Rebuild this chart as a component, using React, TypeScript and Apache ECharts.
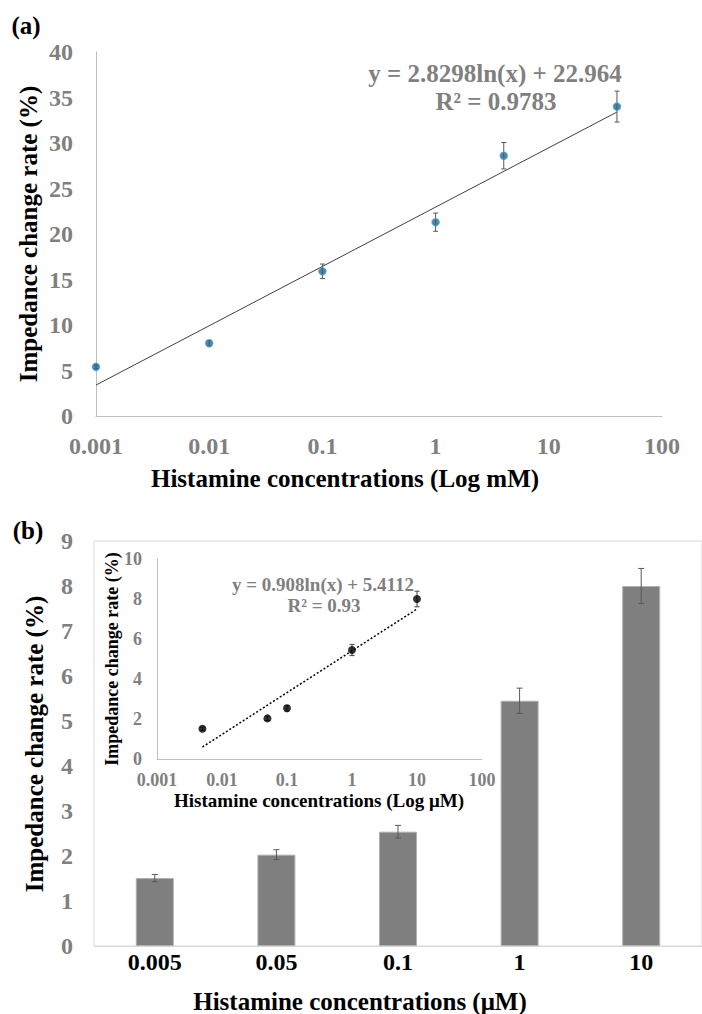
import React, { useEffect, useRef } from 'react';
import * as echarts from 'echarts';

// ---- Panel (a) data ----
const concA = [0.001, 0.01, 0.1, 1, 4, 40];
const rateA = [5.4, 8.0, 15.9, 21.3, 28.6, 34.0];
const errA = [0.2, 0.3, 0.8, 1.0, 1.45, 1.7];
const trendA = [[0.001, 3.4], [40, 33.4]];
const xTicksA = ['0.001', '0.01', '0.1', '1', '10', '100'];
const eqA = 'y = 2.8298ln(x) + 22.964';
const r2A = 'R² = 0.9783';

// ---- Panel (b) data ----
const catsB = ['0.005', '0.05', '0.1', '1', '10'];
const concB = [0.005, 0.05, 0.1, 1, 10];
const rateB = [1.51, 2.03, 2.54, 5.45, 8.0];
const errB = [0.08, 0.11, 0.14, 0.28, 0.39];
const trendB = [[0.005, 0.6], [10, 7.5]];
const xTicksInset = ['0.001', '0.01', '0.1', '1', '10', '100'];
const eqB = 'y = 0.908ln(x) + 5.4112';
const r2B = 'R² = 0.93';

const FONT = '"Liberation Serif", "Times New Roman", serif';
const GRAY = '#808080';

const logLabel = (ticks: string[]) => (v: number) => {
  const i = Math.round(Math.log10(v)) + 3;
  return ticks[i] ?? '';
};

const errRender = (capHalf: number, color: string) => (params: any, api: any) => {
  const x = api.value(0);
  const lo = api.value(1);
  const hi = api.value(2);
  const p1 = api.coord([x, hi]);
  const p2 = api.coord([x, lo]);
  const style = { stroke: color, lineWidth: 1 };
  return {
    type: 'group',
    children: [
      { type: 'line', shape: { x1: p1[0], y1: p1[1], x2: p2[0], y2: p2[1] }, style },
      { type: 'line', shape: { x1: p1[0] - capHalf, y1: p1[1], x2: p1[0] + capHalf, y2: p1[1] }, style },
      { type: 'line', shape: { x1: p2[0] - capHalf, y1: p2[1], x2: p2[0] + capHalf, y2: p2[1] }, style },
    ],
  };
};

const txt = (x: number, y: number, text: string, size: number, color: string, rot = 0) => ({
  type: 'text',
  x,
  y,
  rotation: rot,
  style: {
    text,
    fill: color,
    fontSize: size,
    fontWeight: 'bold',
    fontFamily: FONT,
    align: 'center',
    verticalAlign: 'middle',
  },
  z: 100,
});

export default function App() {
  const ref = useRef<HTMLDivElement>(null);
  useEffect(() => {
    if (!ref.current) return;
    const chart = echarts.init(ref.current, undefined, { renderer: 'svg' });
    const tickLabel = (size: number, color: string, margin: number) => ({
      fontSize: size,
      fontWeight: 'bold',
      fontFamily: FONT,
      color,
      margin,
    });
    const option: any = {
      animation: false,
      backgroundColor: '#ffffff',
      grid: [
        { left: 96, top: 52, width: 566, height: 364 },
        { left: 94, top: 541, width: 608, height: 405, show: true, borderColor: '#d9d9d9', borderWidth: 1 },
        { left: 157, top: 559, width: 325, height: 200 },
      ],
      xAxis: [
        {
          gridIndex: 0, type: 'log', logBase: 10, min: 0.001, max: 100,
          axisLine: { show: true, lineStyle: { color: '#bfbfbf' } },
          axisTick: { show: false }, splitLine: { show: false },
          axisLabel: { ...tickLabel(24, GRAY, 18), formatter: logLabel(xTicksA) },
        },
        {
          gridIndex: 1, type: 'category', data: catsB,
          axisLine: { show: true, lineStyle: { color: '#d9d9d9' } },
          axisTick: { show: false }, splitLine: { show: false },
          axisLabel: tickLabel(24, '#000000', 4),
        },
        {
          gridIndex: 2, type: 'log', logBase: 10, min: 0.001, max: 100,
          axisLine: { show: true, lineStyle: { color: '#bfbfbf' } },
          axisTick: { show: false }, splitLine: { show: false },
          axisLabel: { ...tickLabel(18, GRAY, 13), lineHeight: 16, formatter: logLabel(xTicksInset) },
        },
      ],
      yAxis: [
        {
          gridIndex: 0, type: 'value', min: 0, max: 40, interval: 5,
          axisLine: { show: true, lineStyle: { color: '#bfbfbf' } },
          axisTick: { show: false }, splitLine: { show: false },
          axisLabel: tickLabel(24, GRAY, 23),
        },
        {
          gridIndex: 1, type: 'value', min: 0, max: 9, interval: 1,
          axisLine: { show: false },
          axisTick: { show: false }, splitLine: { show: false },
          axisLabel: tickLabel(24, GRAY, 21),
        },
        {
          gridIndex: 2, type: 'value', min: 0, max: 10, interval: 2,
          axisLine: { show: true, lineStyle: { color: '#bfbfbf' } },
          axisTick: { show: false }, splitLine: { show: false },
          axisLabel: tickLabel(18, GRAY, 15),
        },
      ],
      series: [
        // Panel (a)
        {
          type: 'line', xAxisIndex: 0, yAxisIndex: 0, data: trendA,
          showSymbol: false, symbol: 'none',
          lineStyle: { color: '#404040', width: 1 }, z: 2,
        },
        {
          type: 'custom', xAxisIndex: 0, yAxisIndex: 0,
          renderItem: errRender(2.5, '#595959'),
          data: concA.map((c, i) => [c, rateA[i] - errA[i], rateA[i] + errA[i]]),
          encode: { x: 0, y: [1, 2] }, z: 3,
        },
        {
          type: 'scatter', xAxisIndex: 0, yAxisIndex: 0,
          data: concA.map((c, i) => [c, rateA[i]]),
          symbolSize: 7,
          itemStyle: { color: '#3a5f72', borderColor: '#2f9bd6', borderWidth: 1.5 },
          z: 4,
        },
        // Panel (b) bars
        {
          type: 'bar', xAxisIndex: 1, yAxisIndex: 1, data: rateB, barWidth: 38,
          itemStyle: { color: '#7f7f7f', borderColor: '#b0b0b0', borderWidth: 1 },
          z: 2,
        },
        {
          type: 'custom', xAxisIndex: 1, yAxisIndex: 1,
          renderItem: errRender(3, '#595959'),
          data: catsB.map((_, i) => [i, rateB[i] - errB[i], rateB[i] + errB[i]]),
          encode: { x: 0, y: [1, 2] }, z: 3,
        },
        // Inset
        {
          type: 'line', xAxisIndex: 2, yAxisIndex: 2, data: trendB,
          showSymbol: false, symbol: 'none',
          lineStyle: { color: '#000000', width: 1.5, type: [2, 2] }, z: 2,
        },
        {
          type: 'custom', xAxisIndex: 2, yAxisIndex: 2,
          renderItem: errRender(2.5, '#404040'),
          data: concB.map((c, i) => [c, rateB[i] - errB[i], rateB[i] + errB[i]]),
          encode: { x: 0, y: [1, 2] }, z: 3,
        },
        {
          type: 'scatter', xAxisIndex: 2, yAxisIndex: 2,
          data: concB.map((c, i) => [c, rateB[i]]),
          symbolSize: 8,
          itemStyle: { color: '#000000' },
          z: 4,
        },
      ],
      graphic: [
        txt(26, 25, '(a)', 25, '#000000'),
        txt(28, 234, 'Impedance change rate (%)', 25, '#000000', Math.PI / 2),
        txt(345, 478, 'Histamine concentrations (Log mM)', 25, '#000000'),
        txt(495, 73, eqA, 25, GRAY),
        txt(496, 101, r2A, 25, GRAY),
        txt(28, 530, '(b)', 25, '#000000'),
        txt(34, 744, 'Impedance change rate (%)', 25, '#000000', Math.PI / 2),
        txt(360, 1001, 'Histamine concentrations (μM)', 25, '#000000'),
        txt(112, 659, 'Impedance change rate (%)', 18, '#000000', Math.PI / 2),
        txt(319, 800, 'Histamine concentrations (Log μM)', 19, '#000000'),
        txt(323, 584, eqB, 19, GRAY),
        txt(324, 605, r2B, 19, GRAY),
      ],
    };
    chart.setOption(option);
    return () => chart.dispose();
  }, []);
  return (
    <div
      ref={ref}
      style={{ position: 'absolute', left: 0, top: 0, width: 702, height: 1014, background: '#fff' }}
    />
  );
}
